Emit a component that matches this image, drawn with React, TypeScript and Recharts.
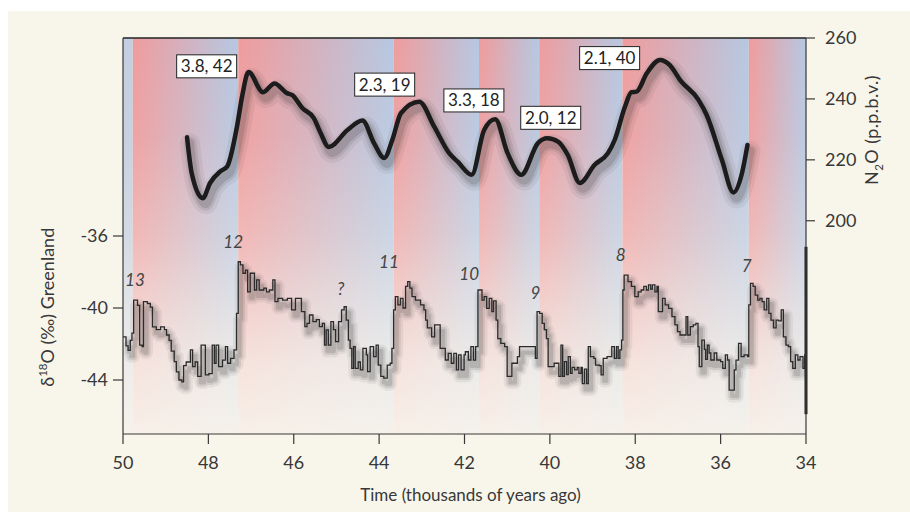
import React from 'react';
import {
  ComposedChart, Line, XAxis, YAxis, ReferenceArea, ReferenceLine, ReferenceDot,
} from 'recharts';

// time axis (thousands of years ago)
const ageTicks = [50, 48, 46, 44, 42, 40, 38, 36, 34];
const d18oTicks = [-36, -40, -44];
const n2oTicks = [200, 220, 240, 260];

// N2O (p.p.b.v.)
const n2oAge = [48.5, 48.39, 48.13, 47.96, 47.72, 47.56, 47.33, 47.21, 47.06, 46.72, 46.45, 46.16, 46.04, 45.8, 45.53, 45.37, 45.18, 44.74, 44.39, 44.12, 43.88, 43.69, 43.49, 43.06, 42.71, 42.36, 42.16, 41.83, 41.54, 41.28, 40.99, 40.67, 40.28, 40.06, 39.81, 39.58, 39.3, 38.95, 38.64, 38.48, 38.24, 38.09, 37.97, 37.73, 37.42, 37.19, 36.95, 36.52, 36.33, 35.97, 35.7, 35.5, 35.37];
const n2oValue = [227.4, 215.6, 207.4, 212.4, 216.2, 217.8, 230.9, 240.8, 248.8, 242.2, 245.1, 241.9, 241.3, 237, 233.7, 228.8, 224.2, 229.8, 232.9, 225.5, 220.6, 226.6, 235.3, 239.1, 230.9, 222.2, 219.4, 215.1, 229.8, 233.3, 222.2, 215.1, 225.5, 227.1, 226, 221.6, 212.4, 218.4, 222.2, 226.6, 237.5, 242.2, 242.4, 248.4, 252.8, 251.1, 246.2, 239.7, 234.8, 220, 209.3, 215.6, 224.9];

// Greenland d18O (permil), stepped record
const d18oAge = [
  50, 49.93, 49.88, 49.83, 49.79, 49.75, 49.66, 49.61, 49.55, 49.52, 49.43, 49.36, 49.31, 49.22, 49.12, 49.03, 48.98, 48.92, 48.87, 48.8,
  48.75, 48.69, 48.62, 48.58, 48.52, 48.42, 48.37, 48.31, 48.25, 48.17, 48.07, 47.99, 47.91, 47.86, 47.82, 47.76, 47.67, 47.6, 47.55, 47.48,
  47.4, 47.34, 47.3, 47.25, 47.19, 47.13, 47.08, 47.02, 46.92, 46.87, 46.81, 46.7, 46.64, 46.57, 46.49, 46.44, 46.37, 46.26, 46.15, 46.05,
  45.96, 45.82, 45.74, 45.69, 45.63, 45.55, 45.47, 45.4, 45.33, 45.28, 45.24, 45.19, 45.13, 45.07, 45.02, 44.95, 44.88, 44.82, 44.77, 44.72,
  44.68, 44.64, 44.6, 44.56, 44.49, 44.44, 44.38, 44.3, 44.27, 44.21, 44.13, 44.07, 44.02, 43.96, 43.89, 43.81, 43.74, 43.7, 43.66, 43.62,
  43.56, 43.5, 43.44, 43.38, 43.33, 43.28, 43.23, 43.15, 43.03, 42.95, 42.91, 42.87, 42.77, 42.7, 42.57, 42.45, 42.38, 42.31, 42.25, 42.19,
  42.14, 42.08, 42.01, 41.98, 41.91, 41.85, 41.79, 41.74, 41.685, 41.59, 41.54, 41.48, 41.42, 41.36, 41.32, 41.26, 41.22, 41.15, 41.06, 41.0,
  40.89, 40.76, 40.71, 40.34, 40.3, 40.24, 40.18, 40.13, 40.08, 40.04, 39.9, 39.79, 39.74, 39.7, 39.66, 39.61, 39.57, 39.52, 39.48, 39.42,
  39.36, 39.32, 39.27, 39.24, 39.19, 39.14, 39.1, 39.05, 38.97, 38.93, 38.84, 38.8, 38.75, 38.66, 38.55, 38.49, 38.44, 38.4, 38.36, 38.32,
  38.29, 38.26, 38.17, 38.09, 38.01, 37.93, 37.86, 37.8, 37.74, 37.69, 37.64, 37.6, 37.54, 37.49, 37.46, 37.36, 37.3, 37.22, 37.14, 37.07,
  37.01, 36.95, 36.81, 36.77, 36.71, 36.64, 36.58, 36.53, 36.5, 36.44, 36.38, 36.35, 36.31, 36.27, 36.23, 36.15, 36.09, 36.0, 35.95, 35.89,
  35.84, 35.8, 35.68, 35.64, 35.58, 35.52, 35.45, 35.37, 35.34, 35.3, 35.24, 35.19, 35.13, 35.08, 35.03, 34.98, 34.92, 34.87, 34.82, 34.76,
  34.7, 34.64, 34.58, 34.53, 34.47, 34.41, 34.36, 34.31, 34.25, 34.19, 34.14, 34.07, 34.03, 34.0,
];
const d18oValue = [
  -41.6, -42.1, -42.35, -41.8, -41.4, -39.56, -39.85, -42.06, -42.15, -39.65, -39.75, -39.95, -41.05, -41.2, -41.05, -41.2, -41.5, -41.8, -42.4, -42.98,
  -43.55, -44.0, -44.1, -43.2, -43.0, -42.33, -43.26, -43.0, -43.8, -42.06, -43.72, -43.65, -42.06, -43.07, -42.06, -43.26, -42.9, -42.15, -43.07, -42.8,
  -42.33, -40.3, -37.43, -37.6, -38.07, -37.9, -39.1, -38.07, -39.0, -38.44, -39.0, -38.9, -39.1, -39.0, -38.44, -39.65, -39.46, -39.56, -39.46, -40.1,
  -39.46, -40.2, -41.04, -40.85, -40.39, -40.76, -40.65, -41.04, -40.85, -42.06, -41.22, -42.06, -40.76, -41.2, -41.87, -40.76, -40.1, -39.93, -40.67, -41.78,
  -42.24, -43.35, -42.15, -43.35, -43.0, -43.44, -42.24, -42.6, -43.54, -42.15, -42.7, -42.06, -43.17, -43.8, -43.9, -43.17, -43.07, -42.24, -40.1, -39.37,
  -39.83, -39.46, -40.0, -38.8, -38.54, -38.9, -39.37, -39.56, -39.83, -40.1, -40.67, -41.1, -41.6, -40.94, -42.24, -42.89, -42.52, -43.07, -42.52, -43.44,
  -42.6, -43.44, -42.6, -42.43, -42.89, -42.15, -42.9, -42.15, -39.0, -39.56, -39.37, -40.02, -39.46, -40.2, -39.6, -40.67, -41.7, -41.96, -42.15, -43.8,
  -43.07, -42.7, -42.15, -42.8, -40.2, -40.3, -40.85, -41.2, -41.7, -43.26, -43.07, -43.8, -42.06, -43.8, -42.98, -43.7, -42.7, -43.63, -43.3, -43.44,
  -43.3, -43.63, -43.3, -44.2, -43.4, -44.2, -42.15, -42.7, -42.8, -43.17, -43.2, -43.72, -42.8, -42.7, -42.15, -42.8, -42.15, -42.8, -42.33, -41.78,
  -39.0, -38.17, -38.54, -38.8, -39.37, -39.1, -39.0, -38.8, -39.0, -38.72, -38.95, -38.72, -39.1, -38.8, -40.2, -39.46, -39.83, -40.02, -40.48, -40.94,
  -41.31, -41.5, -40.48, -41.5, -41.04, -40.94, -40.85, -42.15, -43.26, -41.78, -42.3, -42.85, -42.06, -42.5, -42.89, -42.5, -42.89, -42.98, -43.35, -42.6,
  -42.89, -44.56, -43.44, -42.9, -41.96, -42.7, -42.6, -42.7, -39.83, -38.63, -38.8, -39.28, -39.56, -39.46, -39.65, -40.1, -39.46, -40.3, -40.67, -41.1,
  -40.67, -40.72, -40.1, -41.6, -42.06, -42.15, -42.98, -43.35, -42.6, -42.89, -42.7, -43.35, -42.6, -42.7,
];

// warm interstadial stripes (start, end age)
const stripeStart = [49.77, 47.3, 43.66, 41.66, 40.25, 38.3, 35.34];
const stripeEnd = [47.3, 43.66, 41.66, 40.25, 38.3, 35.34, 34];

// interstadial numbers
const eventName = ['13', '12', '?', '11', '10', '9', '8', '7'];
const eventAge = [49.72, 47.42, 44.9, 43.77, 41.89, 40.34, 38.34, 35.39];
const eventD18o = [-38.44, -36.32, -38.96, -37.43, -38.11, -39.15, -37.06, -37.67];

// boxed annotations
const noteText = ['3.8, 42', '2.3, 19', '3.3, 18', '2.0, 12', '2.1, 40'];
const noteAge = [48.04, 43.87, 41.78, 39.98, 38.6];
const noteN2o = [250.7, 244.7, 239.5, 233.8, 253.4];

const n2oData = n2oAge.map((age, i) => ({ age, n2o: n2oValue[i] }));
const d18oData = d18oAge.map((age, i) => ({ age, d18o: d18oValue[i] }));

// drop shadow: the same series drawn on axes nudged ~3px right / 6px down
const shadowLayers = [
  { n2oWidth: 20, d18oWidth: 13, opacity: 0.07 },
  { n2oWidth: 13, d18oWidth: 8, opacity: 0.11 },
  { n2oWidth: 8, d18oWidth: 4, opacity: 0.16 },
];

const FONT = 'Lato, "Open Sans", sans-serif';
const INK = '#383838';

const LeftLabel = (props: any) => {
  const { x, y, height } = props.viewBox;
  const cx = x + 26;
  const cy = y + height * 0.68;
  return (
    <text transform={`translate(${cx},${cy}) rotate(-90)`} textAnchor="middle" fill={INK} fontSize={18} fontFamily={FONT}>
      δ<tspan fontSize={11.5} dy={-7}>18</tspan><tspan dy={7}>O (‰) Greenland</tspan>
    </text>
  );
};

const RightLabel = (props: any) => {
  const { x, y } = props.viewBox;
  const cx = x + 72;
  const cy = y + 92;
  return (
    <text transform={`translate(${cx},${cy}) rotate(-90)`} textAnchor="middle" fill={INK} fontSize={18} fontFamily={FONT} letterSpacing={0.4}>
      N<tspan fontSize={11.5} dy={5}>2</tspan><tspan dy={-5}>O (p.p.b.v.)</tspan>
    </text>
  );
};

const BottomLabel = (props: any) => {
  const { x, y, width } = props.viewBox;
  return (
    <text x={x + width / 2 + 6} y={y + 67} textAnchor="middle" fill={INK} fontSize={17} fontFamily={FONT}>
      Time (thousands of years ago)
    </text>
  );
};

const NoteBox = (props: any) => {
  const { cx, cy, text } = props;
  return (
    <g>
      <rect x={cx - 30} y={cy - 11.5} width={60} height={23} fill="#fff" stroke="#222" strokeWidth={1} />
      <text x={cx} y={cy + 6} textAnchor="middle" fill="#222" fontSize={17} fontFamily={FONT}>{text}</text>
    </g>
  );
};

const EventMark = (props: any) => {
  const { cx, cy, text } = props;
  return (
    <text x={cx} y={cy + 6} textAnchor="middle" fill="#444" fontSize={17} fontStyle="italic" fontFamily={FONT}>{text}</text>
  );
};

export default function App() {
  return (
    <div style={{ position: 'absolute', left: 8, top: 11, width: 902, height: 501, background: '#f8f6eb' }}>
      <ComposedChart width={902} height={501} margin={{ top: 27, right: 0, bottom: 38, left: 20 }}>
        <defs>
          <linearGradient id="stripe" x1="0" y1="0" x2="1" y2="0">
            <stop offset="0" stopColor="#ef9c9d" />
            <stop offset="1" stopColor="#b6c8e2" />
          </linearGradient>
          <linearGradient id="fade" x1="0" y1="0" x2="0" y2="1">
            <stop offset="0" stopColor="#f8f4ec" stopOpacity={0} />
            <stop offset="0.25" stopColor="#f8f4ec" stopOpacity={0.08} />
            <stop offset="0.5" stopColor="#f8f4ec" stopOpacity={0.32} />
            <stop offset="0.65" stopColor="#f8f4ec" stopOpacity={0.55} />
            <stop offset="0.82" stopColor="#f8f4ec" stopOpacity={0.8} />
            <stop offset="1" stopColor="#f8f4ec" stopOpacity={0.95} />
          </linearGradient>
        </defs>

        <XAxis
          xAxisId="t" dataKey="age" type="number" domain={[34, 50]} reversed ticks={ageTicks}
          height={40} tickSize={10} tickMargin={12} interval={0}
          axisLine={{ stroke: INK, strokeWidth: 1.2 }} tickLine={{ stroke: INK, strokeWidth: 1.2 }}
          tick={{ fill: INK, fontSize: 18, fontFamily: FONT }}
          label={<BottomLabel />}
        />
        <XAxis xAxisId="ts" dataKey="age" type="number" domain={[34.07, 50.07]} reversed hide allowDataOverflow />
        <YAxis
          yAxisId="d18o" orientation="left" type="number" domain={[-47, -25]} ticks={d18oTicks}
          width={95} tickSize={10} tickMargin={5} interval={0}
          axisLine={{ stroke: INK, strokeWidth: 1.2 }} tickLine={{ stroke: INK, strokeWidth: 1.2 }}
          tick={{ fill: INK, fontSize: 18, fontFamily: FONT }}
          label={<LeftLabel />}
        />
        <YAxis
          yAxisId="n2o" orientation="right" type="number" domain={[130, 260]} ticks={n2oTicks}
          width={104} tickSize={9} tickMargin={10} interval={0}
          axisLine={{ stroke: INK, strokeWidth: 1.2 }} tickLine={{ stroke: INK, strokeWidth: 1.2 }}
          tick={{ fill: INK, fontSize: 18, fontFamily: FONT }}
          label={<RightLabel />}
        />
        <YAxis yAxisId="d18oS" type="number" domain={[-46.667, -24.667]} hide allowDataOverflow />
        <YAxis yAxisId="n2oS" type="number" domain={[131.97, 261.97]} hide allowDataOverflow />

        <ReferenceArea xAxisId="t" yAxisId="d18o" x1={50} x2={stripeStart[0]} fill="#c3cee0" fillOpacity={1} />
        {stripeStart.map((s, i) => (
          <ReferenceArea key={`s${i}`} xAxisId="t" yAxisId="d18o" x1={s} x2={stripeEnd[i]} fill="url(#stripe)" fillOpacity={1} />
        ))}
        <ReferenceArea xAxisId="t" yAxisId="d18o" x1={50} x2={34} fill="url(#fade)" fillOpacity={1} />

        <ReferenceLine xAxisId="t" yAxisId="n2o" y={260} stroke="#222" strokeWidth={1.3} />
        <ReferenceLine
          xAxisId="t" yAxisId="d18o" stroke="#222" strokeWidth={3}
          segment={[{ x: 34, y: -36.6 }, { x: 34, y: -45.9 }]}
        />

        {shadowLayers.map((s, i) => (
          <Line
            key={`ds${i}`} xAxisId="ts" yAxisId="d18oS" data={d18oData} dataKey="d18o"
            type="stepAfter" stroke="#3a3a3a" strokeOpacity={s.opacity} strokeWidth={s.d18oWidth}
            strokeLinejoin="round" dot={false} activeDot={false} isAnimationActive={false}
          />
        ))}
        {shadowLayers.map((s, i) => (
          <Line
            key={`ns${i}`} xAxisId="ts" yAxisId="n2oS" data={n2oData} dataKey="n2o"
            type="monotone" stroke="#3a3a3a" strokeOpacity={s.opacity} strokeWidth={s.n2oWidth}
            strokeLinecap="round" strokeLinejoin="round" dot={false} activeDot={false} isAnimationActive={false}
          />
        ))}

        <Line
          xAxisId="t" yAxisId="d18o" data={d18oData} dataKey="d18o"
          type="stepAfter" stroke="#2b2b2b" strokeWidth={1.3} dot={false} activeDot={false}
          isAnimationActive={false}
        />
        <Line
          xAxisId="t" yAxisId="n2o" data={n2oData} dataKey="n2o"
          type="monotone" stroke="#1c1c1c" strokeWidth={4.5} dot={false} activeDot={false}
          strokeLinecap="round" strokeLinejoin="round" isAnimationActive={false}
        />

        {eventName.map((n, i) => (
          <ReferenceDot
            key={`e${i}`} xAxisId="t" yAxisId="d18o" x={eventAge[i]} y={eventD18o[i]}
            shape={(p: any) => <EventMark {...p} text={n} />}
          />
        ))}
        {noteText.map((n, i) => (
          <ReferenceDot
            key={`n${i}`} xAxisId="t" yAxisId="n2o" x={noteAge[i]} y={noteN2o[i]}
            shape={(p: any) => <NoteBox {...p} text={n} />}
          />
        ))}
      </ComposedChart>
    </div>
  );
}
